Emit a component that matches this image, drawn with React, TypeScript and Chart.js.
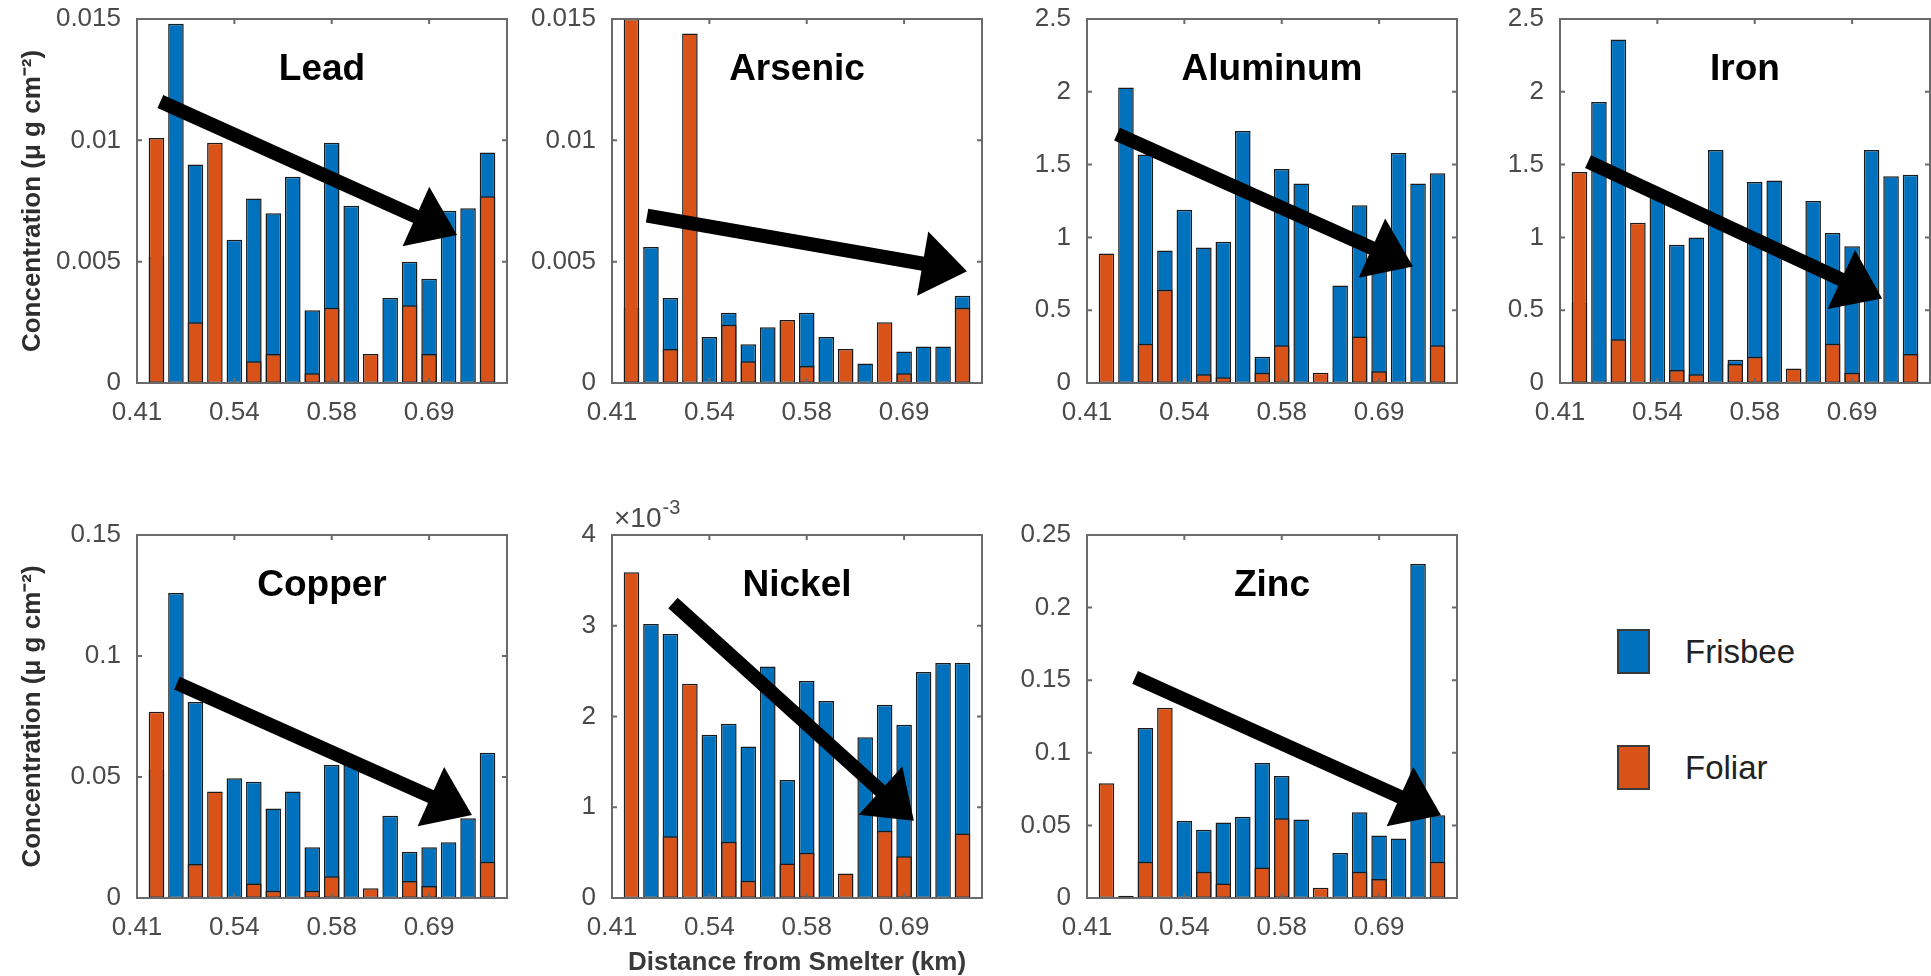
import React, { useEffect, useRef } from "react";
import { Chart, registerables } from "chart.js";

Chart.register(...registerables);

// ---------- data ----------
const slotPositions = [1, 2, 3, 4, 5, 6, 7, 8, 9, 10, 11, 12, 13, 14, 15, 16, 17, 18];
const xTickPositions = [0, 5, 10, 15];
const xTickLabels = ["0.41", "0.54", "0.58", "0.69"];

const leadFrisbee = [0.0052, 0.0148, 0.009, null, 0.0059, 0.0076, 0.007, 0.0085, 0.003, 0.0099, 0.0073, null, 0.0035, 0.005, 0.0043, 0.0071, 0.0072, 0.0095];
const leadFoliar = [0.0101, null, 0.0025, 0.0099, null, 0.0009, 0.0012, null, 0.0004, 0.0031, null, 0.0012, null, 0.0032, 0.0012, null, null, 0.0077];
const leadYTicks = [0, 0.005, 0.01, 0.015];
const leadYLabels = ["0", "0.005", "0.01", "0.015"];
const leadArrow = [1.2, 0.0116, 16.43, 0.0061];

const arsenicFrisbee = [0.0031, 0.0056, 0.0035, null, 0.0019, 0.0029, 0.0016, 0.0023, null, 0.0029, 0.0019, null, 0.0008, null, 0.0013, 0.0015, 0.0015, 0.0036];
const arsenicFoliar = [0.015, null, 0.0014, 0.0144, null, 0.0024, 0.0009, null, 0.0026, 0.0007, null, 0.0014, null, 0.0025, 0.0004, null, null, 0.0031];
const arsenicYTicks = [0, 0.005, 0.01, 0.015];
const arsenicYLabels = ["0", "0.005", "0.01", "0.015"];
const arsenicArrow = [1.8, 0.0069, 18.23, 0.0046];

const aluminumFrisbee = [null, 2.03, 1.57, 0.91, 1.19, 0.93, 0.97, 1.73, 0.18, 1.47, 1.37, null, 0.67, 1.22, 0.9, 1.58, 1.37, 1.44];
const aluminumFoliar = [0.89, null, 0.27, 0.64, null, 0.06, 0.04, null, 0.07, 0.26, null, 0.07, null, 0.32, 0.08, null, null, 0.26];
const aluminumYTicks = [0, 0.5, 1, 1.5, 2, 2.5];
const aluminumYLabels = ["0", "0.5", "1", "1.5", "2", "2.5"];
const aluminumArrow = [1.54, 1.71, 16.74, 0.8];

const ironFrisbee = [0.55, 1.93, 2.36, null, 1.28, 0.95, 1.0, 1.6, 0.16, 1.38, 1.39, null, 1.25, 1.03, 0.94, 1.6, 1.42, 1.43];
const ironFoliar = [1.45, null, 0.3, 1.1, null, 0.09, 0.06, null, 0.13, 0.18, null, 0.1, null, 0.27, 0.07, null, null, 0.2];
const ironYTicks = [0, 0.5, 1, 1.5, 2, 2.5];
const ironYLabels = ["0", "0.5", "1", "1.5", "2", "2.5"];
const ironArrow = [1.44, 1.52, 16.54, 0.58];

const copperFrisbee = [0.053, 0.126, 0.081, null, 0.0495, 0.048, 0.037, 0.044, 0.021, 0.055, 0.055, null, 0.034, 0.019, 0.021, 0.023, 0.033, 0.06];
const copperFoliar = [0.077, null, 0.014, 0.044, null, 0.006, 0.003, null, 0.003, 0.009, null, 0.004, null, 0.007, 0.005, null, null, 0.015];
const copperYTicks = [0, 0.05, 0.1, 0.15];
const copperYLabels = ["0", "0.05", "0.1", "0.15"];
const copperArrow = [2.05, 0.0888, 17.2, 0.0343];

const nickelFrisbee = [null, 0.00302, 0.00291, null, 0.0018, 0.00192, 0.00167, 0.00255, 0.0013, 0.00239, 0.00217, null, 0.00177, 0.00213, 0.00191, 0.00249, 0.00259, 0.00259];
const nickelFoliar = [0.00359, null, 0.00068, 0.00236, null, 0.00062, 0.00019, null, 0.00038, 0.0005, null, 0.00027, null, 0.00074, 0.00046, null, null, 0.00071];
const nickelYTicks = [0, 0.001, 0.002, 0.003, 0.004];
const nickelYLabels = ["0", "1", "2", "3", "4"];
const nickelArrow = [3.13, 0.00325, 15.5, 0.00085];

const zincFrisbee = [null, 0.0015, 0.117, null, 0.053, 0.047, 0.052, 0.056, 0.093, 0.084, 0.054, null, 0.031, 0.059, 0.043, 0.041, 0.23, 0.057];
const zincFoliar = [0.079, null, 0.025, 0.131, null, 0.018, 0.01, null, 0.021, 0.055, null, 0.007, null, 0.018, 0.013, null, null, 0.025];
const zincYTicks = [0, 0.05, 0.1, 0.15, 0.2, 0.25];
const zincYLabels = ["0", "0.05", "0.1", "0.15", "0.2", "0.25"];
const zincArrow = [2.47, 0.152, 18.18, 0.057];

const seriesNames = ["Frisbee", "Foliar"];
const yAxisTitle = "Concentration (μ g cm⁻²)";
const xAxisTitle = "Distance from Smelter (km)";

// ---------- styles ----------
const BLUE = "#0072BD";
const ORANGE = "#D95319";
const FONT = '"Liberation Sans", Arial, Helvetica, sans-serif';
const TICK_COLOR = "#4a4a4a";

type PanelCfg = {
  title: string;
  frisbee: (number | null)[];
  foliar: (number | null)[];
  yTicks: number[];
  yLabels: string[];
  arrow: number[];
  left: number;
  top: number;
  height: number;
  padTop: number;
  xAxisH: number;
  yTitle?: boolean;
  xTitle?: boolean;
  exponent?: boolean;
};

const TOP = { top: 0, height: 440, padTop: 19, xAxisH: 57 };
const BOT = { top: 490, height: 486, padTop: 45, xAxisH: 78 };

const panels: PanelCfg[] = [
  { title: "Lead", frisbee: leadFrisbee, foliar: leadFoliar, yTicks: leadYTicks, yLabels: leadYLabels, arrow: leadArrow, left: 0, ...TOP, yTitle: true },
  { title: "Arsenic", frisbee: arsenicFrisbee, foliar: arsenicFoliar, yTicks: arsenicYTicks, yLabels: arsenicYLabels, arrow: arsenicArrow, left: 475, ...TOP },
  { title: "Aluminum", frisbee: aluminumFrisbee, foliar: aluminumFoliar, yTicks: aluminumYTicks, yLabels: aluminumYLabels, arrow: aluminumArrow, left: 950, ...TOP },
  { title: "Iron", frisbee: ironFrisbee, foliar: ironFoliar, yTicks: ironYTicks, yLabels: ironYLabels, arrow: ironArrow, left: 1423, ...TOP },
  { title: "Copper", frisbee: copperFrisbee, foliar: copperFoliar, yTicks: copperYTicks, yLabels: copperYLabels, arrow: copperArrow, left: 0, ...BOT, yTitle: true },
  { title: "Nickel", frisbee: nickelFrisbee, foliar: nickelFoliar, yTicks: nickelYTicks, yLabels: nickelYLabels, arrow: nickelArrow, left: 475, ...BOT, xTitle: true, exponent: true },
  { title: "Zinc", frisbee: zincFrisbee, foliar: zincFoliar, yTicks: zincYTicks, yLabels: zincYLabels, arrow: zincArrow, left: 950, ...BOT },
];

const CANVAS_W = 512;

const panelDecor = {
  id: "panelDecor",
  afterDatasetsDraw(chart: any, _args: any, opts: any) {
    const { ctx, chartArea: a, scales } = chart;
    const xs = scales.x;
    const ys = scales.y;
    ctx.save();
    // box
    ctx.strokeStyle = "#6a6a6a";
    ctx.lineWidth = 2;
    ctx.strokeRect(a.left, a.top, a.right - a.left, a.bottom - a.top);
    // inward ticks
    const tl = 5;
    ctx.beginPath();
    xs.ticks.forEach((t: any) => {
      const px = xs.getPixelForValue(t.value);
      ctx.moveTo(px, a.bottom);
      ctx.lineTo(px, a.bottom - tl);
      ctx.moveTo(px, a.top);
      ctx.lineTo(px, a.top + tl);
    });
    ys.ticks.forEach((t: any) => {
      const py = ys.getPixelForValue(t.value);
      ctx.moveTo(a.left, py);
      ctx.lineTo(a.left + tl, py);
      ctx.moveTo(a.right, py);
      ctx.lineTo(a.right - tl, py);
    });
    ctx.stroke();

    // arrow
    if (opts.arrow) {
      const [x0, y0, x1, y1] = opts.arrow;
      const p0x = xs.getPixelForValue(x0);
      const p0y = ys.getPixelForValue(y0);
      const p1x = xs.getPixelForValue(x1);
      const p1y = ys.getPixelForValue(y1);
      const dx = p1x - p0x;
      const dy = p1y - p0y;
      const L = Math.hypot(dx, dy);
      const ux = dx / L;
      const uy = dy / L;
      const headLen = 45;
      const headHalf = 32.5;
      const bx = p1x - ux * headLen;
      const by = p1y - uy * headLen;
      ctx.strokeStyle = "#000";
      ctx.fillStyle = "#000";
      ctx.lineWidth = 14;
      ctx.lineCap = "butt";
      ctx.beginPath();
      ctx.moveTo(p0x, p0y);
      ctx.lineTo(bx + ux * 2, by + uy * 2);
      ctx.stroke();
      ctx.beginPath();
      ctx.moveTo(p1x, p1y);
      ctx.lineTo(bx - uy * headHalf, by + ux * headHalf);
      ctx.lineTo(bx + uy * headHalf, by - ux * headHalf);
      ctx.closePath();
      ctx.fill();
    }

    // title inside the plot
    ctx.fillStyle = "#000";
    ctx.font = `bold 37px ${FONT}`;
    ctx.textAlign = "center";
    ctx.textBaseline = "alphabetic";
    ctx.fillText(opts.title, (a.left + a.right) / 2, a.top + 61);

    // exponent label
    if (opts.exponent) {
      ctx.fillStyle = TICK_COLOR;
      ctx.textAlign = "left";
      ctx.font = `28px ${FONT}`;
      const base = "×10";
      ctx.fillText(base, a.left + 2, a.top - 8);
      const w = ctx.measureText(base).width;
      ctx.font = `20px ${FONT}`;
      ctx.fillText("-3", a.left + 2 + w + 1, a.top - 21);
    }
    ctx.restore();
  },
};

function Panel({ cfg }: { cfg: PanelCfg }) {
  const ref = useRef<HTMLCanvasElement | null>(null);
  useEffect(() => {
    if (!ref.current) return;
    const yMax = cfg.yTicks[cfg.yTicks.length - 1];
    const chart = new Chart(ref.current, {
      type: "bar",
      data: {
        datasets: [
          {
            label: seriesNames[1],
            data: slotPositions.map((x, i) => ({ x, y: cfg.foliar[i] })) as any,
            backgroundColor: ORANGE,
            order: 0,
          },
          {
            label: seriesNames[0],
            data: slotPositions.map((x, i) => ({ x, y: cfg.frisbee[i] })) as any,
            backgroundColor: BLUE,
            order: 1,
          },
        ],
      },
      options: {
        responsive: false,
        animation: false,
        devicePixelRatio: 1,
        layout: { padding: { top: cfg.padTop, right: 5, bottom: 0, left: 0 } },
        datasets: {
          bar: {
            grouped: false,
            barPercentage: 0.8,
            categoryPercentage: 1,
            borderWidth: 1.5,
            borderColor: "#1a1a1a",
            borderSkipped: false,
          },
        } as any,
        plugins: {
          legend: { display: false },
          tooltip: { enabled: false },
          panelDecor: { title: cfg.title, arrow: cfg.arrow, exponent: cfg.exponent },
        } as any,
        scales: {
          x: {
            type: "linear",
            min: 0,
            max: 19,
            offset: false,
            grid: { display: false, drawTicks: false },
            border: { display: false },
            afterBuildTicks: (s: any) => {
              s.ticks = xTickPositions.map((v) => ({ value: v }));
            },
            afterFit: (s: any) => {
              s.height = cfg.xAxisH;
              s.paddingLeft = 0;
              s.paddingRight = 0;
            },
            ticks: {
              autoSkip: false,
              maxRotation: 0,
              minRotation: 0,
              padding: 14,
              color: TICK_COLOR,
              font: { family: FONT, size: 26 },
              callback: (_v: any, i: number) => xTickLabels[i],
            },
            title: {
              display: !!cfg.xTitle,
              text: xAxisTitle,
              color: "#3a3a3a",
              font: { family: FONT, size: 26, weight: "bold", lineHeight: 1 },
              padding: { top: 0, bottom: 0 },
            },
          },
          y: {
            type: "linear",
            min: 0,
            max: yMax,
            grid: { display: false, drawTicks: false },
            border: { display: false },
            afterBuildTicks: (s: any) => {
              s.ticks = cfg.yTicks.map((v) => ({ value: v }));
            },
            afterFit: (s: any) => {
              s.width = 137;
              s.paddingTop = 0;
              s.paddingBottom = 0;
            },
            ticks: {
              autoSkip: false,
              padding: 16,
              color: TICK_COLOR,
              font: { family: FONT, size: 26 },
              callback: (_v: any, i: number) => cfg.yLabels[i],
            },
            title: {
              display: !!cfg.yTitle,
              text: yAxisTitle,
              color: "#2e2e2e",
              font: { family: FONT, size: 26, weight: "bold", lineHeight: 1.2 },
              padding: { top: 17, bottom: 0 },
            },
          },
        } as any,
      },
      plugins: [panelDecor as any],
    });
    return () => chart.destroy();
  }, [cfg]);

  return (
    <canvas
      ref={ref}
      width={CANVAS_W}
      height={cfg.height}
      style={{ position: "absolute", left: cfg.left, top: cfg.top, width: CANVAS_W, height: cfg.height }}
    />
  );
}

function LegendItem({ color, label, top }: { color: string; label: string; top: number }) {
  return (
    <>
      <div
        style={{
          position: "absolute",
          left: 1617,
          top,
          width: 33,
          height: 45,
          background: color,
          border: "2px solid #3a3a3a",
          boxSizing: "border-box",
        }}
      />
      <div
        style={{
          position: "absolute",
          left: 1685,
          top: top + 22,
          transform: "translateY(-50%)",
          fontFamily: FONT,
          fontSize: 33,
          color: "#222",
          whiteSpace: "nowrap",
          lineHeight: 1,
        }}
      >
        {label}
      </div>
    </>
  );
}

export default function App() {
  return (
    <div
      style={{
        position: "absolute",
        left: 0,
        top: 0,
        width: 1931,
        height: 976,
        overflow: "hidden",
        background: "#fff",
      }}
    >
      {panels.map((p) => (
        <Panel key={p.title} cfg={p} />
      ))}
      <LegendItem color={BLUE} label={seriesNames[0]} top={629} />
      <LegendItem color={ORANGE} label={seriesNames[1]} top={745} />
    </div>
  );
}
